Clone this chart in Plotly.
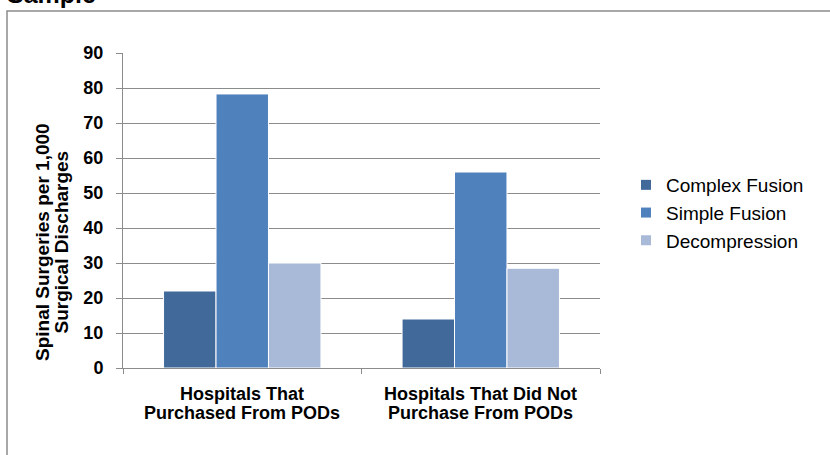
import plotly.graph_objects as go

# Spinal surgery rates by hospital group
category_keys = ["purchased", "not_purchased"]
category_lines = [
    ["Hospitals That", "Purchased From PODs"],
    ["Hospitals That Did Not", "Purchase From PODs"],
]
series_names = ["Complex Fusion", "Simple Fusion", "Decompression"]
complex_fusion = [22, 14]
simple_fusion = [78.3, 56]
decompression = [30, 28.5]
y_ticks = [0, 10, 20, 30, 40, 50, 60, 70, 80, 90]
y_title_lines = ["Spinal Surgeries per 1,000", "Surgical Discharges"]
chart_title = "Sample"

colors = ["#416A9B", "#4F81BD", "#A9BAD8"]
FONT = "Liberation Sans, Arial, sans-serif"

fig = go.Figure()
for name, vals, col in zip(series_names, [complex_fusion, simple_fusion, decompression], colors):
    fig.add_trace(go.Bar(
        x=category_keys, y=vals, name=name, showlegend=False,
        marker=dict(color=col, line=dict(color="white", width=1)),
    ))
# small square swatches for the legend
for name, col in zip(series_names, colors):
    fig.add_trace(go.Scatter(
        x=[None], y=[None], mode="markers", name=name,
        marker=dict(symbol="square", size=10, color=col),
    ))

L, R, T, B = 123, 230, 53, 87
W, H = 830, 455
pw, ph = W - L - R, H - T - B

def px_x(p):
    return (p - L) / pw

def px_y(p):
    return (H - B - p) / ph

annotations = [dict(
    text="<b>%s</b>" % chart_title, xref="paper", yref="paper",
    x=px_x(5), y=px_y(-6), xanchor="left", yanchor="middle",
    showarrow=False, font=dict(size=25, color="black", family=FONT),
)]

# category labels, two tight lines each
for key, lines in zip(category_keys, category_lines):
    for i, line in enumerate(lines):
        annotations.append(dict(
            text="<b>%s</b>" % line, xref="x", yref="paper",
            x=key, y=px_y(394 + 18.5 * i), xanchor="center", yanchor="middle",
            showarrow=False, font=dict(size=18, color="black", family=FONT),
        ))

# rotated axis title, two tight lines
for i, line in enumerate(y_title_lines):
    annotations.append(dict(
        text="<b>%s</b>" % line, xref="paper", yref="paper",
        x=px_x(42 + 18.5 * i), y=px_y(242), xanchor="center", yanchor="middle",
        textangle=-90, showarrow=False,
        font=dict(size=19, color="black", family=FONT),
    ))

fig.update_layout(
    width=W, height=H,
    margin=dict(l=L, r=R, t=T, b=B),
    paper_bgcolor="white", plot_bgcolor="white",
    barmode="group", bargap=0.34, bargroupgap=0.0,
    font=dict(family=FONT, color="black"),
    legend=dict(
        x=px_x(626), y=px_y(213), xanchor="left", yanchor="middle",
        font=dict(size=19, color="black", family=FONT), traceorder="normal",
        itemwidth=30, tracegroupgap=0, bgcolor="rgba(0,0,0,0)",
    ),
    xaxis=dict(
        showline=True, linecolor="#8c8c8c", linewidth=1,
        ticks="outside", tickson="boundaries", ticklen=5, tickcolor="#8c8c8c",
        showticklabels=False, showgrid=False,
    ),
    yaxis=dict(
        range=[0, 90], tickvals=y_ticks,
        ticktext=["<b>%d</b>" % v for v in y_ticks],
        showline=True, linecolor="#8c8c8c", linewidth=1,
        ticks="outside", ticklen=6, tickcolor="#8c8c8c",
        showgrid=True, gridcolor="#8c8c8c", gridwidth=1,
        zeroline=False, ticklabelstandoff=9,
        tickfont=dict(size=18, family=FONT, color="black"),
    ),
    shapes=[dict(
        type="rect", xref="paper", yref="paper",
        x0=px_x(7), y0=px_y(470), x1=px_x(850), y1=px_y(11),
        line=dict(color="#8c8c8c", width=1.5), fillcolor="rgba(0,0,0,0)", layer="below",
    )],
    annotations=annotations,
)

fig.write_html("out.html")
